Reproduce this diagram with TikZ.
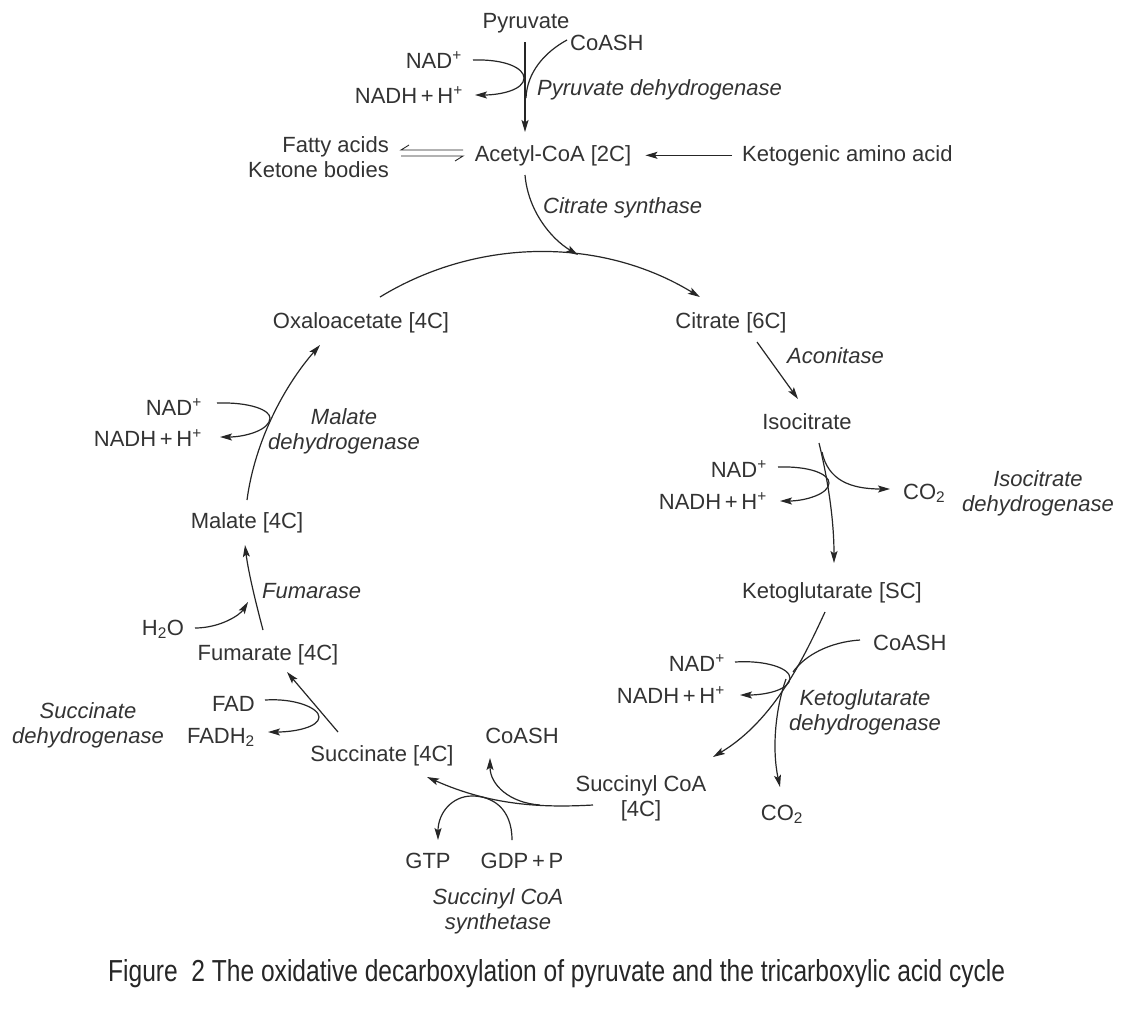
\documentclass[tikz,border=0pt]{standalone}
\usepackage{fontspec}
\setmainfont{Liberation Sans}
\usetikzlibrary{arrows.meta,calc}
\definecolor{txtc}{HTML}{333333}
\definecolor{linec}{HTML}{262626}
\tikzset{
  lbl/.style={inner sep=0pt, font=\fontsize{22}{25}\selectfont, text=txtc},
  enz/.style={lbl, font=\fontsize{22}{25}\selectfont\itshape},
  conn/.style={draw=linec, line width=1.2pt},
  arr/.style={conn, -{Stealth[length=12pt,width=7pt,inset=2.5pt]}},
  harp/.style={draw=linec, line width=0.9pt, line join=miter}
}
\begin{document}
\begin{tikzpicture}[x=1pt,y=-1pt]
\fill[white] (0,0) rectangle (1130,1029);
\useasboundingbox (0,0) rectangle (1130,1029);

% ---- top: pyruvate dehydrogenase
\node[lbl,anchor=base] (pyr) at (526,28) {Pyruvate};
\node[lbl,anchor=base west] (coa1) at (570,50) {CoASH};
\node[lbl,anchor=base east] (nad1) at (462,68) {NAD\textsuperscript{+}};
\node[lbl,anchor=base east] (nadh1) at (463,103) {NADH\,+\,H\textsuperscript{+}};
\node[enz,anchor=base west] (pdh) at (537,95) {Pyruvate dehydrogenase};
\node[lbl,anchor=base] (acoa) at (553,161) {Acetyl-CoA [2C]};
\node[lbl,anchor=east,align=right] (fatty) at (389,157) {Fatty acids\\Ketone bodies};
\node[lbl,anchor=base west] (keto) at (742,161) {Ketogenic amino acid};
\node[enz,anchor=base west] (cs) at (543,213) {Citrate synthase};

% ---- cycle metabolites
\node[lbl,anchor=base] (oaa) at (361,328) {Oxaloacetate [4C]};
\node[lbl,anchor=base] (cit) at (731,328) {Citrate [6C]};
\node[enz,anchor=base west] (acon) at (787,363) {Aconitase};
\node[lbl,anchor=base] (iso) at (807,429) {Isocitrate};
\node[lbl,anchor=base east] (nad2) at (767,477) {NAD\textsuperscript{+}};
\node[lbl,anchor=base east] (nadh2) at (767,509) {NADH\,+\,H\textsuperscript{+}};
\node[lbl,anchor=base west] (co2a) at (903,499) {CO\textsubscript{2}};
\node[enz,align=center] (idh) at (1038,493) {Isocitrate\\dehydrogenase};
\node[lbl,anchor=base] (akg) at (832,598) {Ketoglutarate [SC]};
\node[lbl,anchor=base west] (coa2) at (873,650) {CoASH};
\node[lbl,anchor=base east] (nad3) at (725,671) {NAD\textsuperscript{+}};
\node[lbl,anchor=base east] (nadh3) at (725,703) {NADH\,+\,H\textsuperscript{+}};
\node[enz,align=center] (kgdh) at (865,712) {Ketoglutarate\\dehydrogenase};
\node[lbl,anchor=base] (co2b) at (782,820) {CO\textsubscript{2}};
\node[lbl,align=center] (scoa) at (641,798) {Succinyl CoA\\[0pt][4C]};
\node[lbl,anchor=base] (coa3) at (522,743) {CoASH};
\node[lbl,anchor=base] (gtp) at (428,868) {GTP};
\node[lbl,anchor=base] (gdp) at (522,868) {GDP\,+\,P};
\node[enz,align=center] (scs) at (498,911) {Succinyl CoA\\synthetase};
\node[lbl,anchor=base] (succ) at (382,761) {Succinate [4C]};
\node[lbl,anchor=base east] (fad) at (255,711) {FAD};
\node[lbl,anchor=base east] (fadh) at (255,743) {FADH\textsubscript{2}};
\node[enz,align=center] (sdh) at (88,725) {Succinate\\dehydrogenase};
\node[lbl,anchor=base] (fum) at (268,660) {Fumarate [4C]};
\node[lbl,anchor=base] (h2o) at (163,635) {H\textsubscript{2}O};
\node[enz,anchor=base west] (fumase) at (262,598) {Fumarase};
\node[lbl,anchor=base] (mal) at (247,528) {Malate [4C]};
\node[lbl,anchor=base east] (nad4) at (202,415) {NAD\textsuperscript{+}};
\node[lbl,anchor=base east] (nadh4) at (202,446) {NADH\,+\,H\textsuperscript{+}};
\node[enz,align=center] (mdh) at (344,431) {Malate\\dehydrogenase};

% ---- caption
\node[inner sep=0pt,anchor=base west,text=black!85] (cap) at (108,981)
  {\resizebox{897pt}{22pt}{\fontsize{22}{25}\selectfont Figure~~2 The oxidative decarboxylation of pyruvate and the tricarboxylic acid cycle}};

% ---- connector end points
\coordinate (pdhA) at (525,42);   \coordinate (pdhB) at (525,132);
\coordinate (n1a) at (473,60);    \coordinate (n1b) at (475,95);
\coordinate (c1a) at (567,40);    \coordinate (c1b) at (526,98);
\coordinate (csA) at (525,175);   \coordinate (csB) at (578,255);
\coordinate (arcA) at (380,297);
\coordinate (acA) at (757,342);   \coordinate (acB) at (798,399);
\coordinate (idA) at (819,443);   \coordinate (idB) at (834,563);
\coordinate (n2a) at (778,467);   \coordinate (n2b) at (780,501);
\coordinate (o2a) at (822,452);   \coordinate (o2b) at (890,489);
\coordinate (kgA) at (825,612);   \coordinate (kgB) at (713,757);
\coordinate (c2a) at (860,640);   \coordinate (c2b) at (793,672);
\coordinate (n3a) at (735,662);   \coordinate (n3b) at (740,695);
\coordinate (o3a) at (786,679);   \coordinate (o3b) at (780,787);
\coordinate (ssA) at (593,805);   \coordinate (ssB) at (427,777);
\coordinate (c3a) at (540,805);   \coordinate (c3b) at (490,758);
\coordinate (gA) at (512,840);    \coordinate (gB) at (438,840);
\coordinate (sdA) at (338,732);   \coordinate (sdB) at (287,672);
\coordinate (fa) at (265,700);    \coordinate (fb) at (268,732);
\coordinate (fuA) at (263,630);   \coordinate (fuB) at (245,545);
\coordinate (hA) at (195,628);    \coordinate (hB) at (248,602);
\coordinate (mdA) at (247,500);   \coordinate (mdB) at (320,345);
\coordinate (n4a) at (217,403);   \coordinate (n4b) at (220,437);
\coordinate (hpL) at (401,150);   \coordinate (hpR) at (463,150);
\coordinate (hqL) at (401,156);   \coordinate (hqR) at (463,156);

% ---- connectors
\draw[arr] (pdhA) -- (pdhB);
\draw[arr] (n1a) .. controls (505,59) and (524,68) .. (524,78) .. controls (524,90) and (500,95) .. (n1b);
\draw[conn] (c1a) .. controls (545,52) and (527,72) .. (c1b);
\draw[harp] (hpR) -- (hpL) -- ++(8,-5);
\draw[harp] (hqL) -- (hqR) -- ++(-8,5);
\draw[arr,shorten <=10pt,shorten >=14pt] (keto.west) -- (keto.west -| acoa.east);
\draw[arr] (csA) .. controls (528,210) and (550,238) .. (csB);
\draw[arr] (arcA) arc[start angle=-121.4, end angle=-58.6, radius=307];
\draw[arr] (acA) -- (acB);
\draw[arr] (idA) .. controls (828,480) and (834,520) .. (idB);
\draw[arr] (n2a) .. controls (810,466) and (829,474) .. (829,483) .. controls (829,494) and (805,501) .. (n2b);
\draw[arr] (o2a) .. controls (828,480) and (850,489) .. (o2b);
\draw[arr] (kgA) .. controls (805,655) and (775,720) .. (kgB);
\draw[conn] (c2a) .. controls (830,642) and (805,655) .. (c2b);
\draw[arr] (n3a) .. controls (765,660) and (790,668) .. (790,678) .. controls (790,690) and (765,695) .. (n3b);
\draw[arr] (o3a) .. controls (775,710) and (772,750) .. (o3b);
\draw[arr] (ssA) .. controls (540,808) and (490,805) .. (ssB);
\draw[arr] (c3a) .. controls (510,803) and (490,785) .. (c3b);
\draw[arr] (gA) .. controls (512,808) and (492,796) .. (472,796) .. controls (452,796) and (438,813) .. (gB);
\draw[arr] (sdA) -- (sdB);
\draw[arr] (fa) .. controls (295,698) and (319,708) .. (319,717) .. controls (319,727) and (295,732) .. (fb);
\draw[arr] (fuA) .. controls (255,600) and (248,570) .. (fuB);
\draw[arr] (hA) .. controls (220,628) and (240,615) .. (hB);
\draw[arr] (mdA) .. controls (255,440) and (285,385) .. (mdB);
\draw[arr] (n4a) .. controls (250,402) and (270,410) .. (270,418) .. controls (270,430) and (245,437) .. (n4b);
\end{tikzpicture}
\end{document}
